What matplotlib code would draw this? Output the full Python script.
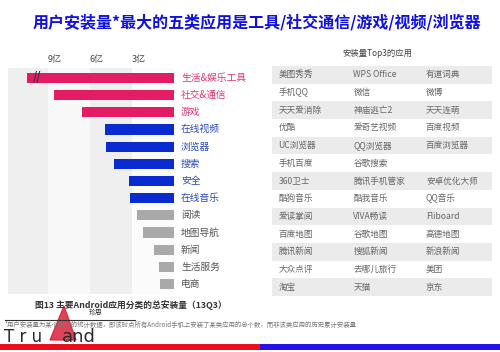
import matplotlib
matplotlib.use("Agg")
import matplotlib.pyplot as plt
from matplotlib.patches import Rectangle, Polygon

plt.rcParams['font.family'] = ['Noto Sans CJK SC', 'DejaVu Sans']

# ---------------- data ----------------
categories = ["生活&娱乐工具", "社交&通信", "游戏", "在线视频", "浏览器", "搜索", "安全",
              "在线音乐", "阅读", "地图导航", "新闻", "生活服务", "电商"]
installs = [10.5, 8.6, 6.6, 4.95, 4.85, 4.3, 3.2, 3.15, 2.65, 2.2, 1.45, 1.05, 1.0]  # 亿
groups = ["top"] * 3 + ["mid"] * 5 + ["low"] * 5
tick_values = [9, 6, 3]
tick_labels = ["9亿", "6亿", "3亿"]
top3_apps = [
    ["美图秀秀", "WPS Office", "有道词典"],
    ["手机QQ", "微信", "微博"],
    ["天天爱消除", "神庙逃亡2", "天天连萌"],
    ["优酷", "爱奇艺视频", "百度视频"],
    ["UC浏览器", "QQ浏览器", "百度浏览器"],
    ["手机百度", "谷歌搜索", ""],
    ["360卫士", "腾讯手机管家", "安卓优化大师"],
    ["酷狗音乐", "酷我音乐", "QQ音乐"],
    ["爱读掌阅", "VIVA畅读", "Fliboard"],
    ["百度地图", "谷歌地图", "高德地图"],
    ["腾讯新闻", "搜狐新闻", "新浪新闻"],
    ["大众点评", "去哪儿旅行", "美团"],
    ["淘宝", "天猫", "京东"],
]

bar_colors = {"top": "#e31c63", "mid": "#0a2bd0", "low": "#a9a9a9"}
label_colors = {"top": "#e03575", "mid": "#2a48c0", "low": "#555555"}

W, H = 500, 352
fig = plt.figure(figsize=(5.0, 3.52), dpi=100)
fig.patch.set_facecolor("white")

def fx(px):
    return px / W

def fy(py):
    return 1 - py / H

# ---------------- title ----------------
fig.text(fx(257), fy(22), "用户安装量*最大的五类应用是工具/社交通信/游戏/视频/浏览器",
         ha="center", va="center", fontsize=11.5, fontweight="bold", color="#1010e6")

# ---------------- bar chart ----------------
ax = fig.add_axes([fx(8), fy(294), fx(166), 226 / H])
n = len(categories)
ax.set_xlim(11.86, 0)
ax.set_ylim(n - 0.42, -0.58)
band_cols = ["#efefef", "#f8f8f8", "#efefef", "#fbfbfb"]
edges = [11.86, 9, 6, 3, 0]
for i in range(4):
    ax.axvspan(edges[i + 1], edges[i], color=band_cols[i], lw=0, zorder=0)
ys = list(range(n))
ax.barh(ys, installs, height=0.6, color=[bar_colors[g] for g in groups], zorder=2)
for y, c, g in zip(ys, categories, groups):
    ax.text(-0.5, y, c, ha="left", va="center", fontsize=7, color=label_colors[g],
            clip_on=False)
for v, t in zip(tick_values, tick_labels):
    ax.text(v + 0.05, -0.58 - 0.5, t, ha="left", va="center", fontsize=6.5,
            color="#444444", clip_on=False)
# axis break mark on the longest bar
ax.text(9.75, 0, "//", ha="center", va="center", fontsize=8, color="#333333",
        fontweight="bold", zorder=3)
for s in ax.spines.values():
    s.set_visible(False)
ax.set_xticks([])
ax.set_yticks([])

# ---------------- table ----------------
tx = fig.add_axes([fx(272), fy(296), fx(220), 230 / H])
tx.set_xlim(0, 1)
tx.set_ylim(len(top3_apps) - 0.5, -0.5)
for i, row in enumerate(top3_apps):
    if i % 2 == 0:
        tx.axhspan(i - 0.5, i + 0.5, color="#ebebeb", lw=0, zorder=0)
    for xc, name in zip([0.03, 0.37, 0.70], row):
        tx.text(xc, i, name, ha="left", va="center", fontsize=6.2, color="#666666")
for s in tx.spines.values():
    s.set_visible(False)
tx.set_xticks([])
tx.set_yticks([])
fig.text(fx(377), fy(53), "安装量Top3的应用", ha="center", va="center",
         fontsize=6, color="#444444")

# ---------------- caption & footnote ----------------
fig.text(fx(35), fy(305), "图13 主要Android应用分类的总安装量（13Q3）", ha="left",
         va="center", fontsize=6.3, color="#333333", fontweight="bold")
fig.text(fx(5), fy(325),
         "*用户安装量为某个时点的统计数据，即该时点所有Android手机上安装了某类应用的总个数，而非该类应用的历史累计安装量",
         ha="left", va="center", fontsize=4.6, color="#777777")

# ---------------- logo ----------------
fig.add_artist(plt.Line2D([fx(5), fx(135)], [fy(320), fy(320)], color="#333333",
                          lw=0.8, transform=fig.transFigure))
fig.add_artist(Polygon([[fx(50), fy(340)], [fx(64), fy(306)], [fx(76), fy(340)]],
                       closed=True, color="#d8233a", alpha=0.85, transform=fig.transFigure))
fig.text(fx(4), fy(337), "T r u", ha="left", va="center", fontsize=12,
         color="#2a2a2a", family="DejaVu Sans")
fig.text(fx(62), fy(337), "and", ha="left", va="center", fontsize=13,
         color="#2a2a2a", family="DejaVu Sans")
fig.text(fx(96), fy(313), "珍思", ha="center", va="center", fontsize=5,
         color="#333333")

# ---------------- bottom stripe ----------------
fig.add_artist(Rectangle((0, fy(350)), fx(260), 6 / H, color="#e8101a",
                         transform=fig.transFigure, lw=0))
fig.add_artist(Rectangle((fx(260), fy(350)), fx(240), 6 / H, color="#2a10e8",
                         transform=fig.transFigure, lw=0))

fig.savefig("out.png", dpi=100, facecolor="white")
